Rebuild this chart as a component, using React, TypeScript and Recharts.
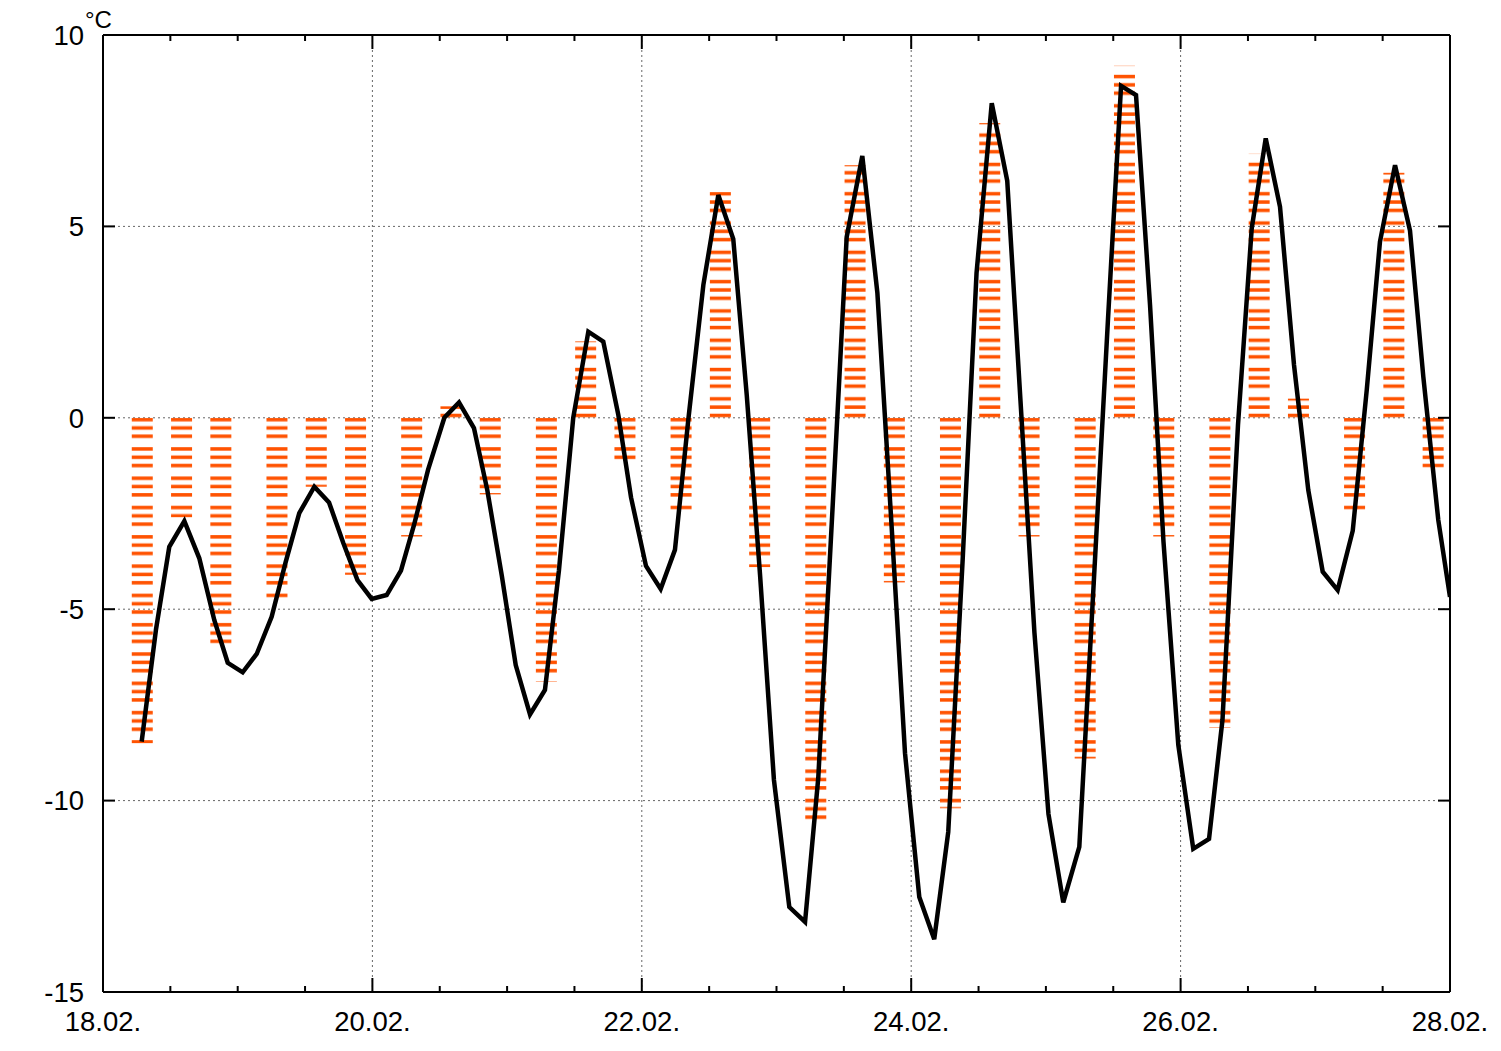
import React from 'react'
import {
  ComposedChart,
  Bar,
  Line,
  XAxis,
  YAxis,
  CartesianGrid,
  ReferenceLine
} from 'recharts'

// x values are days after 18.02. 00:00
const dateLabels = ['18.02.', '20.02.', '22.02.', '24.02.', '26.02.', '28.02.']
const dateTicks = [0, 2, 4, 6, 8, 10]
const tempTicks = [-15, -10, -5, 0, 5, 10]

// observation times (hours) and daily readings
const obsHours = [7, 14, 21]
const obs07 = [-8.5, -4.7, -3.1, -6.9, -2.4, -10.7, -10.2, -8.9, -8.1, -2.4]
const obs14 = [-2.6, -1.8, 0.3, 2.0, 5.9, 6.6, 7.7, 9.2, 6.9, 6.4]
const obs21 = [-5.9, -4.1, -2.0, -1.1, -3.9, -4.3, -3.1, -3.1, 0.5, -1.3]

// continuous temperature record
const lineTimes = [
  0.287, 0.393, 0.492, 0.604, 0.715, 0.826, 0.926, 1.037, 1.141, 1.252,
  1.356, 1.457, 1.569, 1.678, 1.784, 1.889, 1.995, 2.106, 2.212, 2.309,
  2.413, 2.534, 2.643, 2.754, 2.853, 2.96, 3.064, 3.17, 3.281, 3.385,
  3.491, 3.603, 3.714, 3.826, 3.92, 4.031, 4.14, 4.246, 4.345, 4.457,
  4.568, 4.679, 4.779, 4.878, 4.981, 5.095, 5.212, 5.31, 5.417, 5.521,
  5.637, 5.749, 5.854, 5.954, 6.06, 6.171, 6.275, 6.382, 6.485, 6.598,
  6.713, 6.811, 6.915, 7.019, 7.129, 7.248, 7.355, 7.461, 7.558, 7.669,
  7.773, 7.873, 7.983, 8.094, 8.211, 8.311, 8.426, 8.528, 8.632, 8.738,
  8.842, 8.948, 9.055, 9.166, 9.278, 9.382, 9.48, 9.592, 9.703, 9.802,
  9.913, 10.0
]
const lineTemps = [
  -8.46, -5.54, -3.37, -2.7, -3.67, -5.28, -6.4, -6.65, -6.17, -5.2,
  -3.77, -2.49, -1.8, -2.21, -3.27, -4.24, -4.73, -4.63, -3.99, -2.8,
  -1.36, 0.0, 0.4, -0.27, -1.89, -4.11, -6.46, -7.75, -7.11, -3.98,
  0.0, 2.25, 1.99, 0.07, -2.08, -3.87, -4.47, -3.45, -0.06, 3.47,
  5.82, 4.67, 0.6, -4.11, -9.46, -12.78, -13.17, -9.41, -2.3, 4.72,
  6.84, 3.26, -2.8, -8.76, -12.52, -13.62, -10.82, -3.71, 3.78, 8.22,
  6.19, 0.46, -5.62, -10.35, -12.66, -11.21, -4.32, 2.58, 8.67, 8.43,
  2.95, -3.24, -8.55, -11.26, -11.0, -7.89, -0.19, 4.95, 7.3, 5.51,
  1.38, -1.89, -4.02, -4.5, -2.95, 0.73, 4.6, 6.6, 4.89, 1.07,
  -2.67, -4.68
]

const smallXTicks = [0.5, 1, 1.5, 2.5, 3, 3.5, 4.5, 5, 5.5, 6.5, 7, 7.5, 8.5, 9, 9.5]
const bigXTicks = [2, 4, 6, 8]
const innerYTicks = [-10, -5, 0, 5]

type Row = { t: number; obs?: number; temp?: number }

const rows: Row[] = []
;[obs07, obs14, obs21].forEach((vals, k) => {
  vals.forEach((v, day) => rows.push({ t: day + obsHours[k] / 24, obs: v }))
})
lineTimes.forEach((t, i) => rows.push({ t, temp: lineTemps[i] }))
rows.sort((a, b) => a.t - b.t)

const W = 1501
const H = 1051
const M = { top: 35, right: 51, left: 0, bottom: 0 }
const Y_AXIS_W = 103
const X_AXIS_H = 59
const plotH = H - M.top - X_AXIS_H
const zeroY = M.top + (plotH * 10) / 25
const FONT = '"Liberation Sans", Arial, Helvetica, sans-serif'
const ORANGE = '#ff5200'
const BAR_W = 21

// tick lengths in data units
const shortX = (6 * 25) / plotH
const longX = (14 * 25) / plotH
const yLen = (12 * 10) / (W - M.right - Y_AXIS_W)

const StripedBar = (props: any) => {
  const { x, y, width, height, payload } = props
  if (!payload || payload.obs == null) return null
  const cx = x + width / 2
  const top = Math.min(y, y + height)
  const h = Math.abs(height)
  const fill = payload.obs >= 0 ? 'url(#stripesUp)' : 'url(#stripesDown)'
  return <rect x={cx - BAR_W / 2} y={top} width={BAR_W} height={h} fill={fill} />
}

const YTick = (props: any) => {
  const { x, y, payload } = props
  return (
    <g>
      <text x={x - 19} y={y + 9.8} textAnchor="end" fontSize={27.5} fontFamily={FONT} fill="#000">
        {payload.value}
      </text>
      {payload.value === 10 && (
        <text x={x - 18} y={y - 7.3} textAnchor="start" fontSize={24} fontFamily={FONT} fill="#000">
          °C
        </text>
      )}
    </g>
  )
}

const XTick = (props: any) => {
  const { x, y, payload } = props
  const i = dateTicks.indexOf(payload.value)
  return (
    <text x={x} y={y + 39} textAnchor="middle" fontSize={27.5} fontFamily={FONT} fill="#000">
      {dateLabels[i]}
    </text>
  )
}

const tickLine = { stroke: '#000', strokeWidth: 2 }

const App: React.FC = () => {
  return (
    <div style={{ position: 'absolute', left: 0, top: 0, width: W, height: H, background: '#fff' }}>
      <ComposedChart width={W} height={H} data={rows} margin={M}>
        <defs>
          <pattern id="stripesDown" patternUnits="userSpaceOnUse" x={0} y={zeroY} width={40} height={29.3}>
            <rect x={0} y={0.1} width={40} height={3.5} fill={ORANGE} />
            <rect x={0} y={8.4} width={40} height={3.5} fill={ORANGE} />
            <rect x={0} y={16.7} width={40} height={3.5} fill={ORANGE} />
          </pattern>
          <pattern id="stripesUp" patternUnits="userSpaceOnUse" x={0} y={zeroY} width={40} height={29.3}>
            <rect x={0} y={8.6} width={40} height={3.5} fill={ORANGE} />
            <rect x={0} y={16.9} width={40} height={3.5} fill={ORANGE} />
            <rect x={0} y={25.2} width={40} height={3.5} fill={ORANGE} />
          </pattern>
        </defs>

        <CartesianGrid stroke="#666" strokeDasharray="2 3" strokeWidth={1} />

        <XAxis
          dataKey="t"
          type="number"
          domain={[0, 10]}
          ticks={dateTicks}
          allowDataOverflow
          height={X_AXIS_H}
          tickLine={false}
          tickSize={0}
          tickMargin={0}
          axisLine={{ stroke: '#000', strokeWidth: 2 }}
          tick={<XTick />}
          interval={0}
        />
        <YAxis
          type="number"
          domain={[-15, 10]}
          ticks={tempTicks}
          allowDataOverflow
          width={Y_AXIS_W}
          tickLine={false}
          tickSize={0}
          tickMargin={0}
          axisLine={{ stroke: '#000', strokeWidth: 2 }}
          tick={<YTick />}
          interval={0}
        />

        <Bar dataKey="obs" barSize={BAR_W} shape={<StripedBar />} isAnimationActive={false} />

        <Line
          dataKey="temp"
          type="linear"
          stroke="#000"
          strokeWidth={4.5}
          strokeLinejoin="miter"
          dot={false}
          activeDot={false}
          connectNulls
          isAnimationActive={false}
        />

        {/* frame top and right */}
        <ReferenceLine y={10} stroke="#000" strokeWidth={2} ifOverflow="visible" />
        <ReferenceLine x={10} stroke="#000" strokeWidth={2} ifOverflow="visible" />

        {/* inward tick marks */}
        {smallXTicks.map((t) => (
          <ReferenceLine key={'bs' + t} segment={[{ x: t, y: -15 }, { x: t, y: -15 + shortX }]} {...tickLine} ifOverflow="visible" />
        ))}
        {smallXTicks.map((t) => (
          <ReferenceLine key={'ts' + t} segment={[{ x: t, y: 10 }, { x: t, y: 10 - shortX }]} {...tickLine} ifOverflow="visible" />
        ))}
        {bigXTicks.map((t) => (
          <ReferenceLine key={'bl' + t} segment={[{ x: t, y: -15 }, { x: t, y: -15 + longX }]} {...tickLine} ifOverflow="visible" />
        ))}
        {bigXTicks.map((t) => (
          <ReferenceLine key={'tl' + t} segment={[{ x: t, y: 10 }, { x: t, y: 10 - longX }]} {...tickLine} ifOverflow="visible" />
        ))}
        {innerYTicks.map((v) => (
          <ReferenceLine key={'l' + v} segment={[{ x: 0, y: v }, { x: yLen, y: v }]} {...tickLine} ifOverflow="visible" />
        ))}
        {innerYTicks.map((v) => (
          <ReferenceLine key={'r' + v} segment={[{ x: 10 - yLen, y: v }, { x: 10, y: v }]} {...tickLine} ifOverflow="visible" />
        ))}
      </ComposedChart>
    </div>
  )
}

export default App
